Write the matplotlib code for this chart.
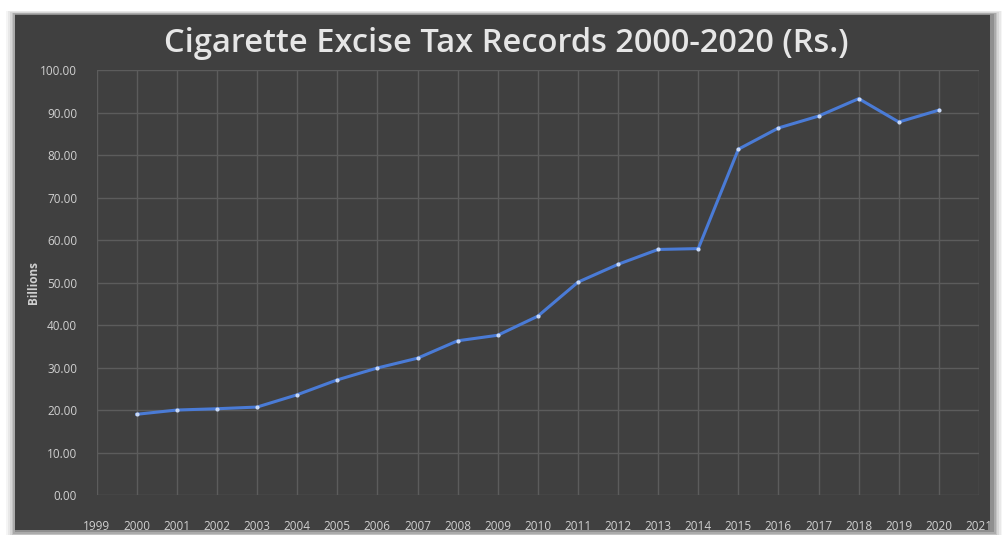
import matplotlib.pyplot as plt
from matplotlib.patches import FancyBboxPatch

# Cigarette excise tax collected per year (billions of Rs.)
years = [2000, 2001, 2002, 2003, 2004, 2005, 2006, 2007, 2008, 2009, 2010,
         2011, 2012, 2013, 2014, 2015, 2016, 2017, 2018, 2019, 2020]
tax = [19.0, 20.0, 20.3, 20.7, 23.6, 27.1, 29.9, 32.2, 36.3, 37.6, 42.1,
       50.1, 54.3, 57.8, 58.0, 81.4, 86.4, 89.2, 93.3, 87.8, 90.6]
x_ticks = list(range(1999, 2022))
y_ticks = [0, 10, 20, 30, 40, 50, 60, 70, 80, 90, 100]

bg = '#404040'
grid_col = '#5c5c5c'
text_col = '#d0d0d0'

fig = plt.figure(figsize=(10.03, 5.35), dpi=100)
fig.patch.set_facecolor('white')

# soft shadow behind the dark panel
for i, a in enumerate([0.04, 0.05, 0.07, 0.09, 0.12, 0.16]):
    d = (6 - i) * 0.003
    fig.patches.append(FancyBboxPatch((0.015 - d * 0.6 + 0.002, 0.008 - d),
                                      0.972 + d * 1.2, 0.965 + d * 1.4,
                                      boxstyle='square,pad=0', transform=fig.transFigure,
                                      facecolor='black', edgecolor='none', alpha=a, zorder=-2))
fig.patches.append(FancyBboxPatch((0.015, 0.01), 0.972, 0.962,
                                  boxstyle='square,pad=0', transform=fig.transFigure,
                                  facecolor=bg, edgecolor='none', zorder=-1))

ax = fig.add_axes([0.0964, 0.0748, 0.8797, 0.794])
ax.set_zorder(5)
ax.set_facecolor(bg)
ax.patch.set_alpha(0)

ax.plot(years, tax, color='#4a7bd6', linewidth=2.2, zorder=3)
ax.plot(years, tax, linestyle='none', marker='o', markersize=3,
        color='#c8d8f5', markeredgewidth=0, zorder=4)

ax.set_xlim(1999, 2021)
ax.set_ylim(0, 100)
ax.set_xticks(x_ticks)
ax.set_xticklabels([str(y) for y in x_ticks])
ax.set_yticks(y_ticks)
ax.set_yticklabels(['%.2f' % v for v in y_ticks])
ax.grid(True, color=grid_col, linewidth=1)
for s in ax.spines.values():
    s.set_visible(False)
ax.tick_params(axis='both', length=0, colors=text_col, labelsize=8.5)
ax.tick_params(axis='x', pad=18)
ax.tick_params(axis='y', pad=14)
for lbl in ax.get_xticklabels() + ax.get_yticklabels():
    lbl.set_family('Open Sans')

ax.set_ylabel('Billions', color=text_col, fontsize=8.5, fontweight='bold',
              family='Open Sans', labelpad=0)

fig.text(0.505, 0.918, 'Cigarette Excise Tax Records 2000-2020 (Rs.)',
         ha='center', va='center', color='#e6e6e6', fontsize=23.5,
         family='Open Sans', fontweight='semibold', zorder=6)

fig.savefig('out.png', dpi=100, facecolor='white')
